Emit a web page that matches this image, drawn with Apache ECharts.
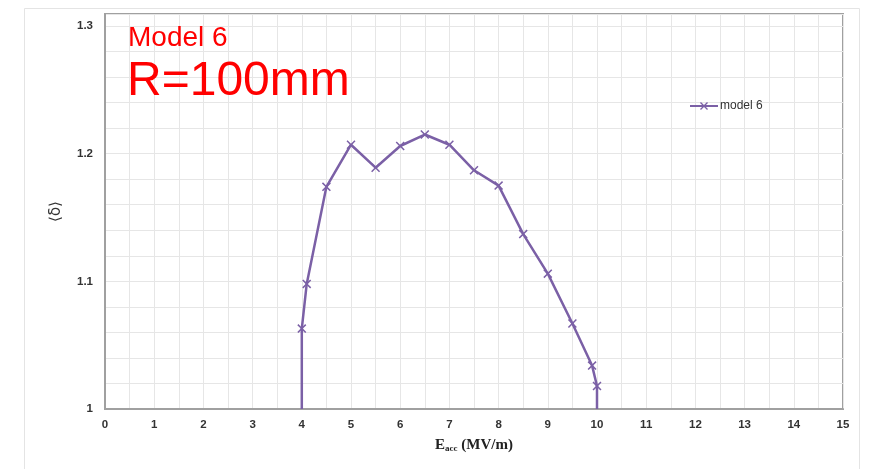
<!DOCTYPE html>
<html>
<head>
<meta charset="utf-8">
<script src="https://cdn.jsdelivr.net/npm/echarts@6/dist/echarts.min.js"></script>
<style>
html,body{margin:0;padding:0;background:#fff;}
#chart{width:871px;height:469px;}
</style>
</head>
<body>
<div id="chart"></div>
<script>
// Data
var seriesName = 'model 6';
var xValues = [4, 4, 4.1, 4.5, 5, 5.5, 6, 6.5, 7, 7.5, 8, 8.5, 9, 9.5, 9.9, 10, 10];
var yValues = [1.0, 1.063, 1.098, 1.174, 1.207, 1.189, 1.206, 1.215, 1.207, 1.187, 1.175, 1.137, 1.106, 1.067, 1.034, 1.018, 1.0];
var xTicks = [0, 15, 1];      // min, max, interval
var yTicks = [1.0, 1.3, 0.1]; // min, labelled max, interval
var titleLine1 = 'Model 6';
var titleLine2 = 'R=100mm';

var purple = '#7b60a6';
var crossPath = 'path://M0,1.2 L1.2,0 L5,3.8 L8.8,0 L10,1.2 L6.2,5 L10,8.8 L8.8,10 L5,6.2 L1.2,10 L0,8.8 L3.8,5 Z';

var seriesData = xValues.map(function (x, i) {
  var item = { value: [x, yValues[i]] };
  if (yValues[i] === 1.0) item.symbol = 'none';
  return item;
});

var chart = echarts.init(document.getElementById('chart'), null, { renderer: 'canvas' });
var gridColor = '#e6e6e6';
var frameColor = '#a0a0a0';
var labelStyle = { color: '#333', fontSize: 11.5, fontWeight: 'bold', fontFamily: 'Liberation Sans, Arial, sans-serif' };

chart.setOption({
  animation: false,
  backgroundColor: '#fff',
  grid: {
    left: 105, right: 28, top: 14, bottom: 60,
    show: true, borderColor: frameColor, borderWidth: 2, backgroundColor: 'transparent'
  },
  legend: {
    data: [seriesName],
    left: 684, top: 95,
    itemWidth: 28, itemHeight: 10, itemGap: 3,
    textStyle: { color: '#333', fontSize: 12, fontFamily: 'Liberation Sans, Arial, sans-serif', padding: [0, 0, 0, -3] }
  },
  xAxis: {
    type: 'value',
    min: xTicks[0], max: xTicks[1], interval: xTicks[2],
    name: '{e|E}{s|acc}{e| (MV/m)}',
    nameLocation: 'middle', nameGap: 29,
    nameTextStyle: {
      rich: {
        e: { fontFamily: 'Liberation Serif, Times New Roman, serif', fontWeight: 'bold', fontSize: 15, color: '#222' },
        s: { fontFamily: 'Liberation Serif, Times New Roman, serif', fontWeight: 'bold', fontSize: 9, color: '#222', verticalAlign: 'bottom', padding: [6, 0, 0, 0] }
      }
    },
    axisLine: { show: true, lineStyle: { color: frameColor, width: 2 } },
    axisTick: { show: false },
    axisLabel: Object.assign({ margin: 10 }, labelStyle),
    splitLine: { show: true, lineStyle: { color: gridColor, width: 1 } },
    minorTick: { show: false, splitNumber: 2 },
    minorSplitLine: { show: true, lineStyle: { color: gridColor, width: 1 } }
  },
  yAxis: {
    type: 'value',
    min: yTicks[0], max: 1.3094, interval: yTicks[2],
    name: '⟨δ⟩',
    nameLocation: 'middle', nameGap: 41,
    nameTextStyle: { fontFamily: 'DejaVu Sans, sans-serif', fontSize: 15, color: '#333' },
    axisLine: { show: true, lineStyle: { color: frameColor, width: 2 } },
    axisTick: { show: false },
    axisLabel: Object.assign({
      margin: 12, showMaxLabel: false,
      formatter: function (v) { return v > yTicks[1] + 1e-6 ? '' : String(Math.round(v * 10) / 10); }
    }, labelStyle),
    splitLine: { show: true, lineStyle: { color: gridColor, width: 1 } },
    minorTick: { show: false, splitNumber: 5 },
    minorSplitLine: { show: true, lineStyle: { color: gridColor, width: 1 } }
  },
  series: [{
    name: seriesName,
    type: 'line',
    data: seriesData,
    symbol: crossPath,
    symbolSize: 9,
    showAllSymbol: true,
    lineStyle: { color: purple, width: 2.5 },
    itemStyle: { color: purple },
    emphasis: { disabled: true }
  }],
  graphic: [
    { type: 'rect', left: 22, top: 6, shape: { width: 835, height: 480 }, style: { fill: 'none', stroke: '#e4e4e4', lineWidth: 1 }, z: -1, silent: true },
    { type: 'text', x: 128, y: 38, style: { text: titleLine1, fill: '#ff0000', fontSize: 28, fontFamily: 'Liberation Sans, Arial, sans-serif', verticalAlign: 'middle', align: 'left' }, z: 10 },
    { type: 'text', x: 127, y: 82, style: { text: titleLine2, fill: '#ff0000', fontSize: 48, fontFamily: 'Liberation Sans, Arial, sans-serif', verticalAlign: 'middle', align: 'left' }, z: 10 }
  ]
});
</script>
</body>
</html>
